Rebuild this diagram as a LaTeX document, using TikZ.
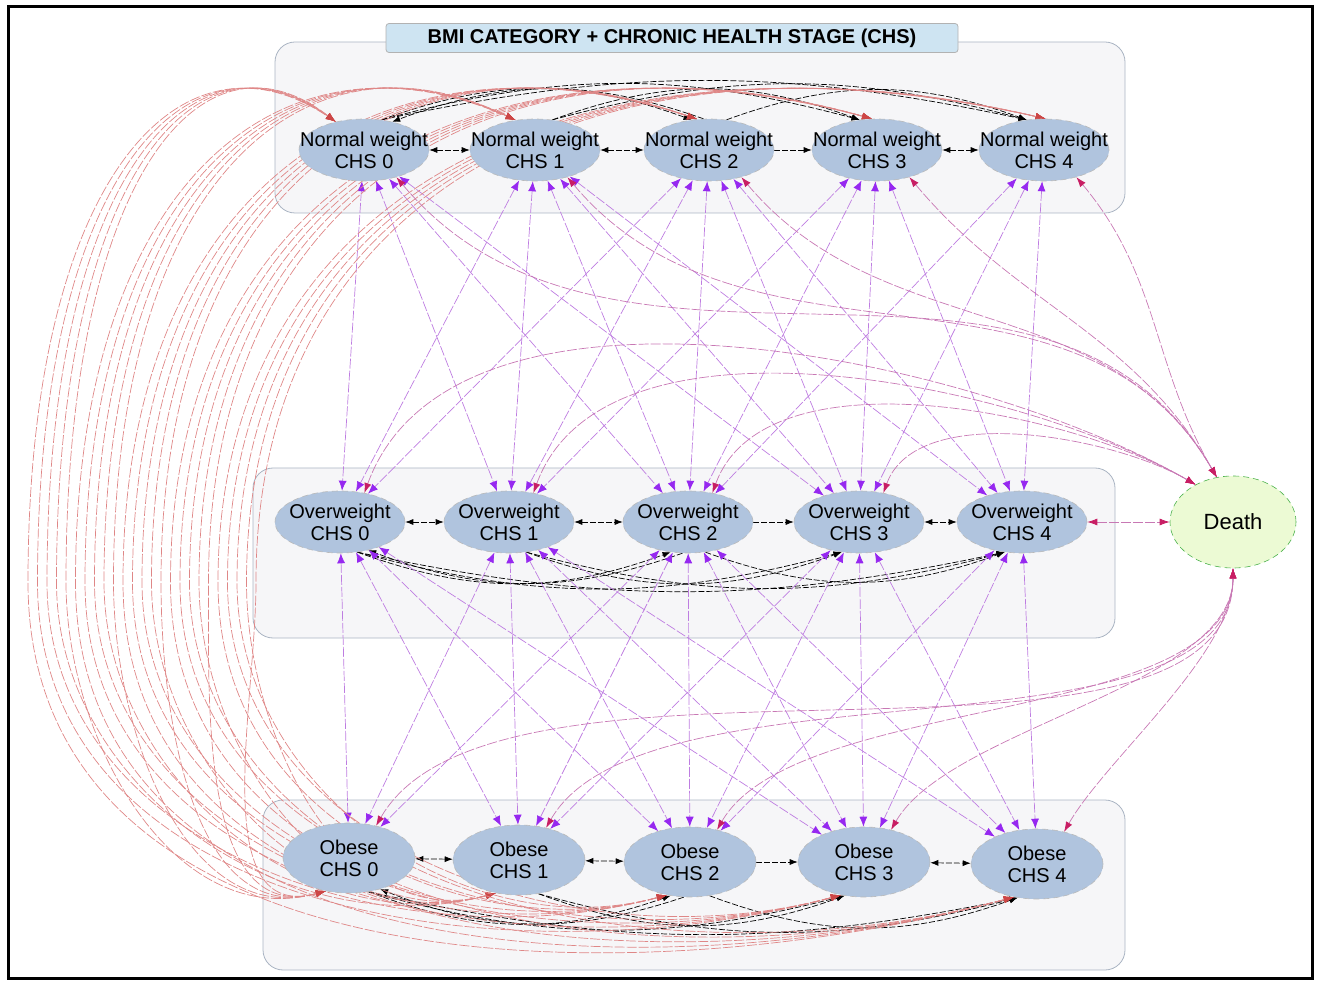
\documentclass[tikz,border=0pt]{standalone}
\usepackage{fontspec}
\setmainfont{Liberation Sans}
\usetikzlibrary{shapes.geometric,arrows.meta}
\pgfdeclarelayer{back}
\pgfdeclarelayer{bg}
\pgfsetlayers{back,bg,main}
\definecolor{steel}{RGB}{176,196,222}
\definecolor{deathgreen}{RGB}{236,250,212}
\definecolor{clusterfill}{RGB}{246,246,248}
\definecolor{clusterline}{RGB}{170,180,195}
\definecolor{titlefill}{RGB}{206,228,242}
\definecolor{arcred}{RGB}{205,70,70}
\definecolor{lilac}{RGB}{190,125,225}
\definecolor{violethead}{RGB}{150,40,240}
\definecolor{crimson}{RGB}{200,30,100}
\definecolor{mauve}{RGB}{200,120,180}
\tikzstyle{state}=[shape=ellipse, fill=steel, draw=gray!55, densely dashed, line width=0.3pt, inner xsep=-13pt, inner ysep=-0.5pt, minimum width=65pt, minimum height=31pt, align=center, font=\fontsize{10}{11}\selectfont]
\tikzstyle{fat}=[state, minimum width=66pt, minimum height=35pt]
\tikzstyle{dead}=[state, fill=deathgreen, draw=green!40!gray, minimum width=63pt, minimum height=46pt, font=\fontsize{11}{12}\selectfont]
\tikzstyle{cluster}=[fill=clusterfill, draw=clusterline, line width=0.4pt, rounded corners=10pt]
\tikzstyle{banner}=[shape=rectangle, fill=titlefill, draw=gray!60, rounded corners=1.5pt, minimum width=286pt, minimum height=14.5pt, inner sep=0pt, font=\bfseries\fontsize{10}{12}\selectfont]
\tikzstyle{hop}=[draw=black, line width=0.35pt, dash pattern=on 3pt off 1pt, >={Latex[length=4pt,width=3pt]}]
\tikzstyle{jump}=[draw=lilac, line width=0.35pt, dash pattern=on 5pt off 1pt, <->, >={Latex[length=5pt,width=4pt,color=violethead]}]
\tikzstyle{leap}=[draw=arcred!65, line width=0.35pt, dash pattern=on 5pt off 1pt, <->, >={Latex[length=5pt,width=3.5pt,color=arcred]}]
\tikzstyle{mort}=[draw=mauve, line width=0.35pt, dash pattern=on 5pt off 1pt, <->, >={Latex[length=5pt,width=3.5pt,color=crimson]}]

\begin{document}
\begin{tikzpicture}[x=0.5pt, y=0.5pt]
    \useasboundingbox (0,0) rectangle (1319,982);
    \draw[line width=1.5pt] (8,4) rectangle (1312,975);

    \begin{pgfonlayer}{back}
        \draw[cluster] (275,769) rectangle (1125,940);
        \draw[cluster] (253,344) rectangle (1115,514);
        \draw[cluster] (263,12) rectangle (1125,182);
    \end{pgfonlayer}
    \node[banner] (title) at (672,944) {BMI CATEGORY + CHRONIC HEALTH STAGE (CHS)};

    \node[state] (nw0) at (364,832) {Normal weight\\CHS 0};
    \node[state] (nw1) at (535,832) {Normal weight\\CHS 1};
    \node[state] (nw2) at (709,832) {Normal weight\\CHS 2};
    \node[state] (nw3) at (877,832) {Normal weight\\CHS 3};
    \node[state] (nw4) at (1044,832) {Normal weight\\CHS 4};

    \node[state] (ow0) at (340,460) {Overweight\\CHS 0};
    \node[state] (ow1) at (509,460) {Overweight\\CHS 1};
    \node[state] (ow2) at (688,460) {Overweight\\CHS 2};
    \node[state] (ow3) at (859,460) {Overweight\\CHS 3};
    \node[state] (ow4) at (1022,460) {Overweight\\CHS 4};

    \node[fat] (ob0) at (349,124) {Obese\\CHS 0};
    \node[fat] (ob1) at (519,122) {Obese\\CHS 1};
    \node[fat] (ob2) at (690,120) {Obese\\CHS 2};
    \node[fat] (ob3) at (864,120) {Obese\\CHS 3};
    \node[fat] (ob4) at (1037,118) {Obese\\CHS 4};

    \node[dead] (death) at (1233,460) {Death};

    \begin{pgfonlayer}{bg}
        % steps within a row
        \foreach \r in {nw,ow,ob} {
            \draw[hop, <->] (\r0) -- (\r1);
            \draw[hop, <->] (\r1) -- (\r2);
            \draw[hop, ->] (\r2) -- (\r3);
            \draw[hop, <->] (\r3) -- (\r4);
        }
        % skipped stages
        \foreach \a/\b/\k in {0/2/20,0/3/15,0/4/12,1/3/20,1/4/15,2/4/20} {
            \draw[hop, ->] (nw\a.60) to[bend left=\k] (nw\b.120);
            \draw[hop, ->] (ow\a.-60) to[bend right=\k] (ow\b.-120);
            \draw[hop, ->] (ob\a.-60) to[bend right=\k] (ob\b.-120);
        }
        \draw[hop, ->] (nw2.100) to[bend right=20] (nw0.45);
        \draw[hop, ->] (ow2.-100) to[bend left=20] (ow0.-45);
        \draw[hop, ->] (ob2.-100) to[bend left=20] (ob0.-45);

        % BMI changes between neighbouring rows
        \foreach \a/\b in {0/0,0/1,0/2,0/3,1/0,1/1,1/2,1/3,1/4,2/0,2/1,2/2,2/3,2/4,3/1,3/2,3/3,3/4,4/2,4/3,4/4} {
            \draw[jump] (nw\a) -- (ow\b);
            \draw[jump] (ow\a) -- (ob\b);
        }

        % normal weight <-> obese, round the left side
        \foreach \a/\xn in {0/364,1/535,2/709,3/877,4/1044} {
            \foreach \b in {0,...,4} {
                \pgfmathsetmacro{\xl}{28+9.5*(5*\a+4-\b)}
                \pgfmathsetmacro{\xc}{\xl+0.45*(\xn-\xl)}
                \pgfmathtruncatemacro{\ang}{135-12*\a}
                \draw[leap] (ob\b.235) to[out=195, in=-90] (\xl,400)
                    .. controls (\xl,800) and (\xc,965) .. (nw\a.\ang);
            }
        }

        % into death
        \foreach \a in {0,...,4} {
            \draw[mort] (nw\a.-40) to[out=-50, in=120] (death.110);
            \draw[mort] (ob\a.50) to[out=60, in=-90, looseness=0.7] (death.-90);
        }
        \foreach \a in {0,...,3} {
            \draw[mort] (ow\a.50) to[out=70, in=150, looseness=0.8] (death.135);
        }
        \draw[mort] (ow4) -- (death);
    \end{pgfonlayer}
\end{tikzpicture}
\end{document}
